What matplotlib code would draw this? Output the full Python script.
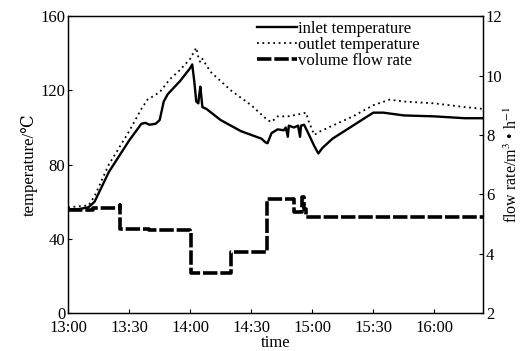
import matplotlib
matplotlib.use("Agg")
import matplotlib.pyplot as plt

plt.rcParams['font.family'] = ['Liberation Serif', 'DejaVu Serif']
plt.rcParams['mathtext.fontset'] = 'stix'

# minutes after 13:00
inlet_t = [0, 5, 10, 13, 20, 30, 36, 38, 40, 43, 45, 47, 49, 55, 60, 61, 62, 63, 64, 64.5, 65, 66, 68, 75, 85, 95,
           97, 98, 100, 103, 106, 107, 108, 108.5, 111, 113, 114, 114.5, 116, 118, 121, 123, 125, 130, 140, 150,
           155, 165, 180, 195, 204]
inlet_v = [56, 56, 57, 60, 76, 93, 102, 102.5, 101.5, 102, 104, 114, 118, 125, 132, 134, 125, 114, 113, 118, 122,
           111, 110, 104, 98, 94, 92, 91.5, 97, 99, 98.5, 100, 95, 101, 100, 101, 95, 101, 101.5, 97, 90, 86, 89,
           94, 101, 108, 108, 106.5, 106, 105, 105]

outlet_t = [0, 10, 13, 20, 30, 36, 39, 45, 50, 55, 60, 63, 64, 65, 66, 70, 75, 80, 85, 90, 95, 98, 100, 103, 108,
            113, 117, 118, 121, 124, 130, 140, 150, 158, 165, 180, 195, 204]
outlet_v = [57, 58, 63, 80, 98, 110, 115, 119, 126, 131, 137, 143, 138, 135, 137, 130, 125, 120, 116, 112, 107,
            104, 103, 106, 106, 107, 108, 104, 96, 98, 101, 106, 112, 115, 114, 113, 111, 110]

flow_t = [0, 12, 25.5, 25.6, 40, 60, 60.5, 79.5, 80, 97.5, 98, 110, 111, 114, 115, 116, 117, 204]
flow_v = [5.47, 5.55, 5.64, 4.83, 4.8, 4.73, 3.35, 3.35, 4.05, 4.05, 5.85, 5.84, 5.4, 5.4, 5.9, 5.5, 5.25, 5.25]

xtick_pos = [0, 30, 60, 90, 120, 150, 180]
xtick_lab = ['13:00', '13:30', '14:00', '14:30', '15:00', '15:30', '16:00']

fig = plt.figure(figsize=(5.24, 3.51), dpi=100)
ax = fig.add_axes([0.130, 0.108, 0.792, 0.846])
ax2 = ax.twinx()

l1, = ax.plot(inlet_t, inlet_v, color='black', lw=1.7, label='inlet temperature')
l2, = ax.plot(outlet_t, outlet_v, color='black', lw=1.3, linestyle=(0, (1, 2)), label='outlet temperature')
l3, = ax2.plot(flow_t, flow_v, color='black', lw=2.6, linestyle=(0, (4, 0.8)), label='volume flow rate',
               drawstyle='steps-post')

ax.set_xlim(0, 204)
ax.set_ylim(0, 160)
ax2.set_ylim(2, 12)
ax.set_xticks(xtick_pos)
ax.set_xticklabels(xtick_lab)
ax.set_yticks([0, 40, 80, 120, 160])
ax2.set_yticks([2, 4, 6, 8, 10, 12])

for a in (ax, ax2):
    a.tick_params(direction='in', labelsize=12, length=3, width=0.8, pad=2)
    for s in a.spines.values():
        s.set_linewidth(0.9)
ax.tick_params(axis='x', pad=5)

ax.set_xlabel('time', fontsize=12, labelpad=-1)
ax.set_ylabel('temperature/℃', fontsize=12, labelpad=2)
ax2.set_ylabel('flow rate/m$^3$ • h$^{-1}$', fontsize=11.5, labelpad=1)

leg = ax.legend(handles=[l1, l2, l3], loc='upper left', bbox_to_anchor=(0.455, 0.985), frameon=False,
                fontsize=12, handlelength=2.4, handletextpad=0.05, labelspacing=0.0, borderaxespad=0,
                borderpad=0)

fig.savefig('out.png', dpi=100)
